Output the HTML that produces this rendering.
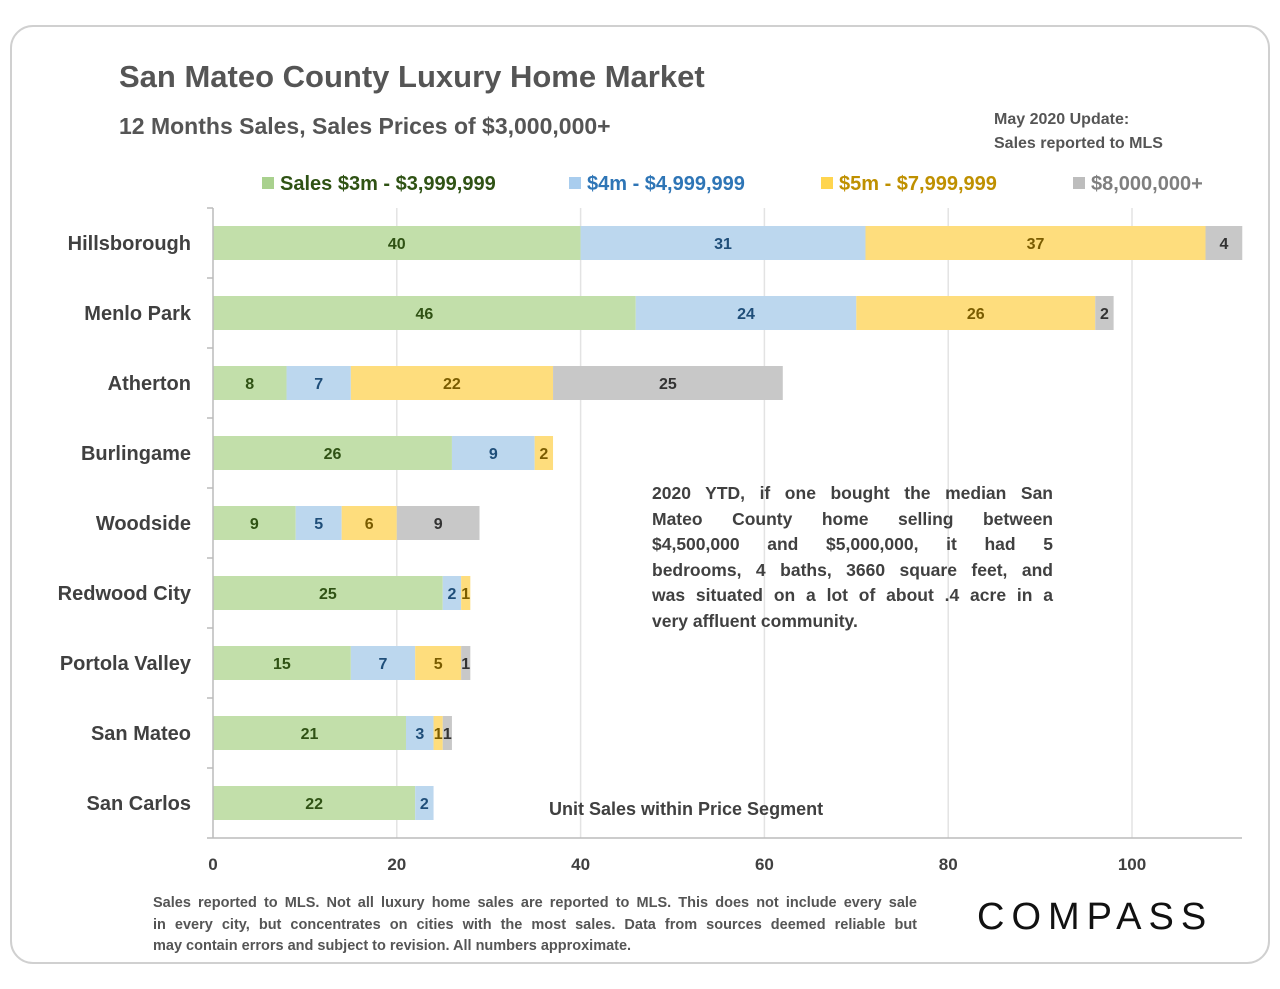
<!DOCTYPE html>
<html><head><meta charset="utf-8"><style>
body{margin:0;background:#fff;font-family:"Liberation Sans",sans-serif;}
svg text{font-family:"Liberation Sans",sans-serif;}
.just{position:absolute;font-weight:bold;}
.just span{display:block;white-space:nowrap;text-align:justify;text-align-last:justify;}
.just span.last{text-align-last:left;}
</style></head><body>
<div style="position:relative;width:1280px;height:989px;">
<svg id="c" width="1280" height="989" xmlns="http://www.w3.org/2000/svg" style="position:absolute;left:0;top:0">
<rect x="11" y="26" width="1258" height="937" rx="22" fill="none" stroke="#d0d0d0" stroke-width="2"/>
<text x="119" y="87" font-size="31" font-weight="bold" fill="#555">San Mateo County Luxury Home Market</text>
<text x="119" y="134" font-size="23" font-weight="bold" fill="#555">12 Months Sales, Sales Prices of $3,000,000+</text>
<text x="994" y="124" font-size="16" font-weight="bold" fill="#555">May 2020 Update:</text>
<text x="994" y="148" font-size="16" font-weight="bold" fill="#555">Sales reported to MLS</text>
<g id="legend"></g>
<g id="grid"></g>
<g id="bars"></g>
<g id="axes"></g>
<text x="549" y="815" font-size="18" font-weight="bold" fill="#404040">Unit Sales within Price Segment</text>
<text x="977" y="929" font-size="38" fill="#111" letter-spacing="7">COMPASS</text>
</svg>
<div class="just" style="left:652px;top:481px;width:401px;font-size:17.5px;line-height:25.6px;color:#404040;">
<span>2020 YTD, if one bought the median San</span>
<span>Mateo County home selling between</span>
<span>$4,500,000 and $5,000,000, it had 5</span>
<span>bedrooms, 4 baths, 3660 square feet, and</span>
<span>was situated on a lot of about .4 acre in a</span>
<span class="last">very affluent community.</span></div>
<div class="just" style="left:153px;top:893px;width:764px;font-size:14.5px;line-height:21.5px;color:#555;">
<span>Sales reported to MLS. Not all luxury home sales are reported to MLS. This does not include every sale</span>
<span>in every city, but concentrates on cities with the most sales. Data from sources deemed reliable but</span>
<span class="last">may contain errors and subject to revision. All numbers approximate.</span></div>
</div>
<script>
const categories=["Hillsborough","Menlo Park","Atherton","Burlingame","Woodside","Redwood City","Portola Valley","San Mateo","San Carlos"];
const s3m=[40,46,8,26,9,25,15,21,22];
const s4m=[31,24,7,9,5,2,7,3,2];
const s5m=[37,26,22,2,6,1,5,1,0];
const s8m=[4,2,25,0,9,0,1,1,0];
const seriesNames=["Sales $3m - $3,999,999","$4m - $4,999,999","$5m - $7,999,999","$8,000,000+"];
const xTicks=[0,20,40,60,80,100];
const fills=["#c2dfaa","#bcd7ee","#fedd7d","#c8c8c8"];
const txt=["#2f5214","#1f4e79","#7a5c00","#333"];
const NS="http://www.w3.org/2000/svg";
const x0=213,xs=9.19,yTop=208,rowH=70,barH=34,xMax=1242;
const X=v=>x0+v*xs, Y=i=>yTop+rowH*i+rowH/2;
function mk(t,a,p,txtc){const e=document.createElementNS(NS,t);for(const k in a)e.setAttribute(k,a[k]);if(txtc!=null)e.textContent=txtc;p.appendChild(e);return e;}
const grid=document.getElementById('grid'),bars=document.getElementById('bars'),axes=document.getElementById('axes'),leg=document.getElementById('legend');
xTicks.forEach(t=>{
 if(t>0){const l=mk('line',{x1:X(t),x2:X(t),y1:yTop,y2:838,stroke:"#e3e3e3","stroke-width":1.5},grid);
 
 }
 const tx=mk('text',{x:X(t),y:870,"font-size":17,"font-weight":"bold",fill:"#404040","text-anchor":"middle"},axes,t);
 
 
});
mk('line',{x1:x0,x2:xMax,y1:838,y2:838,stroke:"#bbb","stroke-width":1.5},axes);
mk('line',{x1:x0,x2:x0,y1:yTop,y2:838,stroke:"#bbb","stroke-width":1.5},axes);
for(let i=0;i<=categories.length;i++)mk('line',{x1:207,x2:x0,y1:yTop+rowH*i,y2:yTop+rowH*i,stroke:"#bbb","stroke-width":1.5},axes);
const series=[s3m,s4m,s5m,s8m];
categories.forEach((c,i)=>{
 const lb=mk('text',{x:191,y:Y(i)+7,"font-size":20,"font-weight":"bold",fill:"#404040","text-anchor":"end"},axes,c);
 
 
 let acc=0;
 series.forEach((s,k)=>{
  const v=s[i]; if(!v)return;
  const r=mk('rect',{x:X(acc),y:Y(i)-barH/2,width:v*xs,height:barH,fill:fills[k]},bars);
  
  
  const t=mk('text',{x:X(acc+v/2),y:Y(i)+6,"font-size":16,"font-weight":"bold",fill:txt[k],"text-anchor":"middle"},bars,v);
  
  
  acc+=v;
 });
});
const lx=[262,569,821,1073];
seriesNames.forEach((n,k)=>{
 const g=mk('g',{},leg);
 
 
 mk('rect',{x:lx[k],y:177,width:12,height:12,fill:["#a9d18e","#a9cdee","#ffd54f","#bdbdbd"][k]},g);
 mk('text',{x:lx[k]+18,y:190,"font-size":20,"font-weight":"bold",fill:["#2f5214","#2e75b6","#bf9000","#7f7f7f"][k]},g,n);
});
</script>
</body></html>
